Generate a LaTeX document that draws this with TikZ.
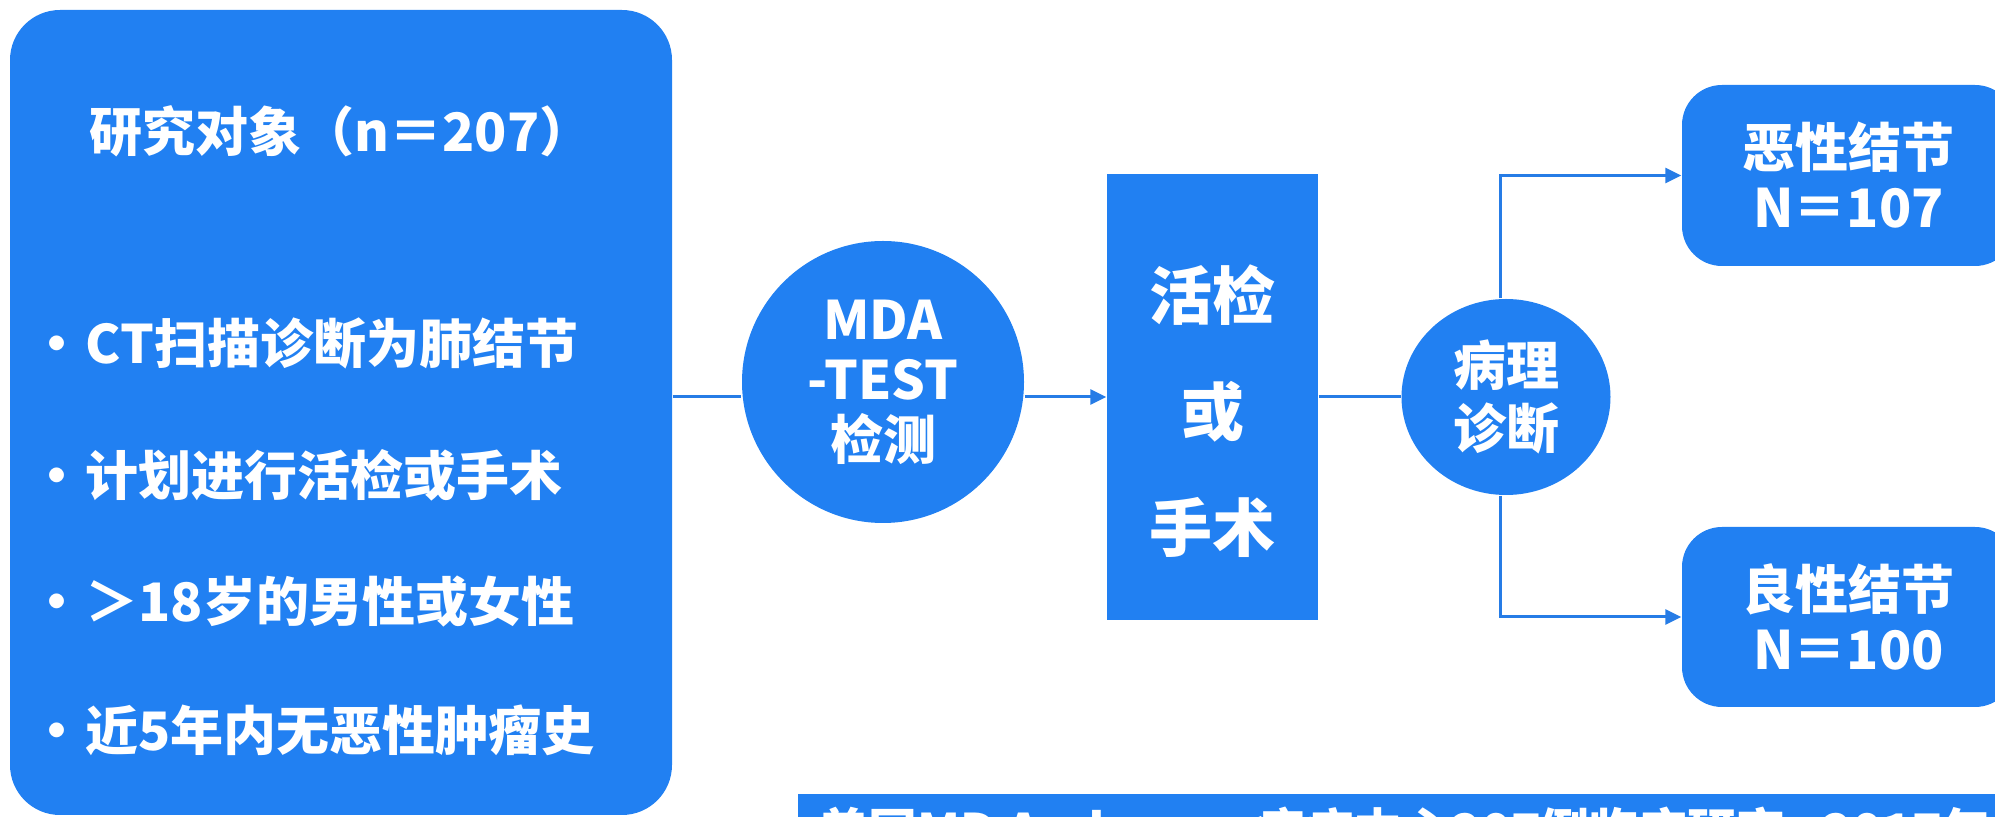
\documentclass[tikz,border=0pt]{standalone}
\usepackage{fontspec}
\setmainfont{Noto Sans CJK SC}
\usetikzlibrary{arrows.meta,shapes.geometric}
\definecolor{mblue}{RGB}{33,128,242}
\definecolor{lblue}{RGB}{38,124,230}
\begin{document}
\begin{tikzpicture}[x=0.1mm,y=-0.1mm,
  box/.style={fill=mblue,draw=none,inner sep=0pt,text=white},
  txt/.style={text=white,inner sep=0pt},
  fa/.style={font=\bfseries\fontsize{15.08pt}{17.07pt}\selectfont},
  fb/.style={font=\bfseries\fontsize{15.08pt}{17.93pt}\selectfont},
  fc/.style={font=\bfseries\fontsize{17.93pt}{33pt}\selectfont},
  fd/.style={font=\bfseries\fontsize{13.94pt}{16pt}\selectfont},
  conn/.style={draw=lblue,line width=0.3mm},
  arr/.style={conn,-{Triangle[length=1.6mm,width=1.5mm]}}]
\useasboundingbox (0,0) rectangle (1995,817);
\clip (0,0) rectangle (1995,817);
% left box
\node[box,rounded corners=5mm,minimum width=66.2mm,minimum height=80.5mm] (lb) at (341,412.5) {};
\node[txt,fa] (title) at (341,131) {研究对象（n＝207）};
\node[txt,fa,anchor=west] (b1) at (27,343) {\makebox[5.8mm][c]{•}CT扫描诊断为肺结节};
\node[txt,fa,anchor=west] (b2) at (27,475) {\makebox[5.8mm][c]{•}计划进行活检或手术};
\node[txt,fa,anchor=west] (b3) at (27,602) {\makebox[5.8mm][c]{•}＞18岁的男性或女性};
\node[txt,fa,anchor=west] (b4) at (27,730) {\makebox[5.8mm][c]{•}近5年内无恶性肿瘤史};
% MDA circle
\node[box,circle,minimum size=28.2mm,align=center,fa] (mda) at (883,382) {MDA\\-TEST\\检测};
% biopsy rect
\node[box,minimum width=21.1mm,minimum height=44.6mm] (bx) at (1212.5,397) {};
\node[txt,fc,align=center] (bxt) at (1212.5,411) {活检\\或\\手术};
% pathology ellipse
\node[box,ellipse,minimum width=20.9mm,minimum height=19.6mm,align=center,fb] (pd) at (1506,397) {病理\\诊断};
% result boxes
\node[box,rounded corners=4mm,minimum width=33.3mm,minimum height=18.1mm,align=center,fa] (mal) at (1848.5,175.5) {恶性结节\\N＝107};
\node[box,rounded corners=4mm,minimum width=33.3mm,minimum height=18.0mm,align=center,fa] (ben) at (1848.5,617) {良性结节\\N＝100};
% bottom banner
\node[box,anchor=north west,minimum width=130mm,minimum height=10mm] (ban) at (797,793) {};
\node[txt,fd,anchor=base west] (bant) at (819,850) {美国MD Anderson 癌症中心207例临床研究{，}\hspace{-1.2mm}2017年};
% connectors
\coordinate (ym) at (0,397);
\coordinate (br) at (1500,0);
\draw[conn] (lb.east |- ym) -- (mda.west |- ym);
\draw[arr] (mda.east |- ym) -- (bx.west |- ym);
\draw[conn] (bx.east |- ym) -- (pd.west);
\draw[arr] (pd.north -| br) |- (mal.west);
\draw[arr] (pd.south -| br) |- (ben.west);
\end{tikzpicture}
\end{document}
